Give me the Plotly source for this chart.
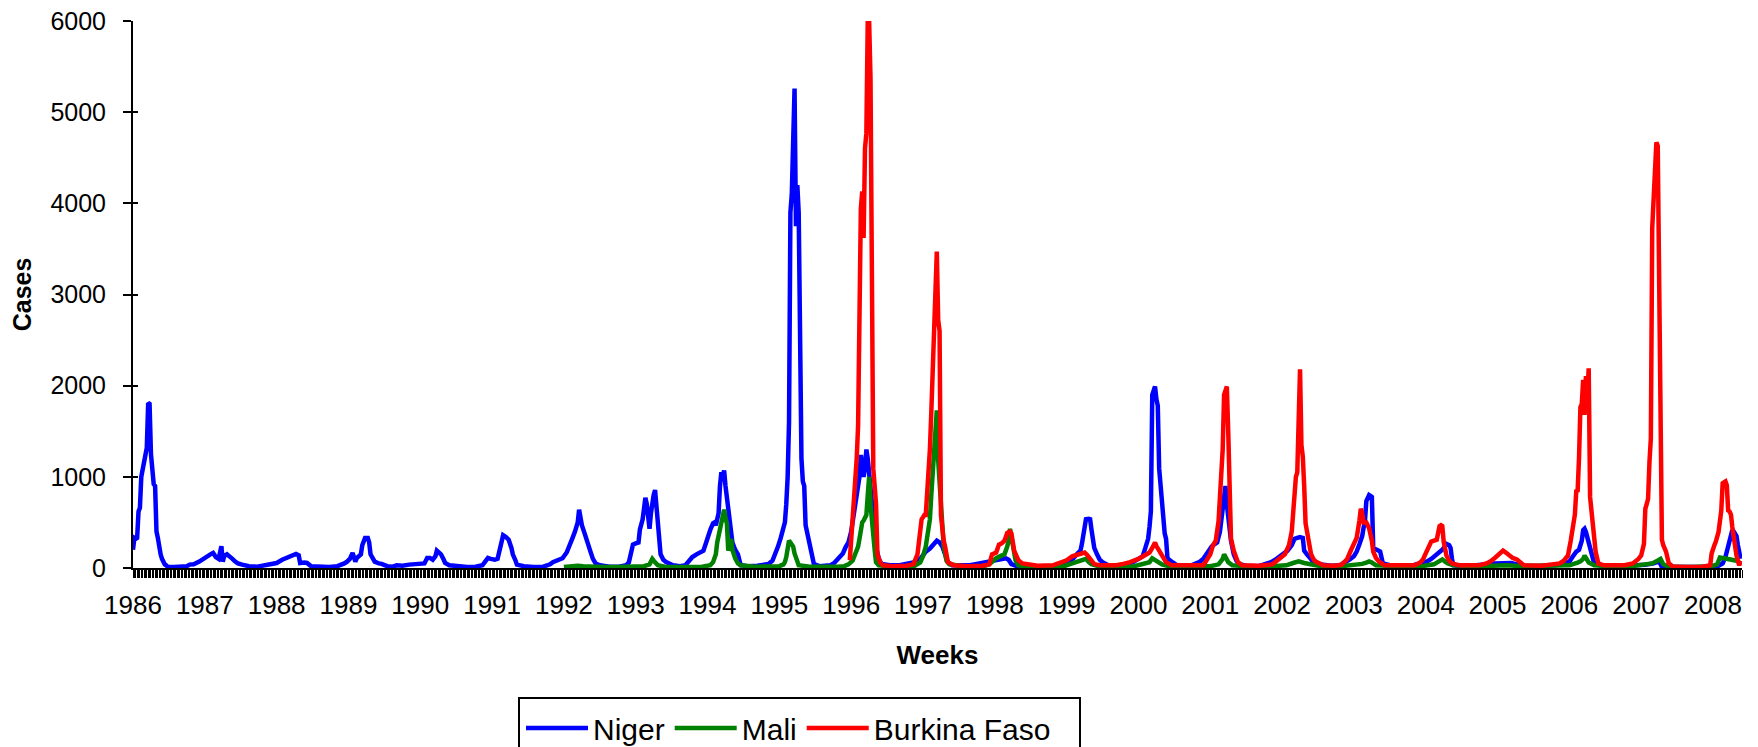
import plotly.graph_objects as go

# ---- data: (week index since 1986 week 0, weekly cases) ----
years = list(range(1986, 2009))
weeks_per_year = 52
n_weeks = 1165

niger = [(0,200),(1,330),(2,320),(3,330),(4,620),(5,660),(6,1000),(7,1100),(8,1150),(9,1280),(10,1320),(11,1810),(12,1800),(13,1250),(14,1000),(15,920),(16,900),(17,400),(18,330),(19,220),(20,150),(21,100),(22,60),(23,40),(24,30),(25,15),(30,10),(35,15),(39,20),(41,37),(44,40),(48,70),(50,90),(53,130),(56,150),(58,165),(60,120),(62,100),(63,150),(64,240),(65,70),(66,130),(68,150),(70,130),(72,100),(74,70),(76,50),(79,37),(84,20),(90,15),(94,30),(98,40),(101,50),(104,55),(108,90),(111,110),(114,130),(116,150),(118,155),(120,140),(121,55),(124,60),(126,55),(129,18),(135,10),(142,10),(148,20),(150,30),(153,50),(155,70),(157,100),(159,165),(160,120),(161,70),(162,110),(163,130),(165,150),(166,250),(168,330),(170,330),(171,280),(172,150),(174,90),(175,70),(178,50),(180,45),(184,20),(188,15),(191,30),(195,25),(200,37),(204,40),(208,45),(211,50),(213,110),(215,110),(217,90),(219,130),(220,190),(222,170),(223,150),(225,90),(226,55),(229,30),(235,15),(242,10),(248,15),(253,30),(255,70),(257,110),(259,100),(262,90),(264,100),(266,240),(267,300),(268,360),(270,340),(272,310),(274,220),(275,150),(277,80),(278,37),(283,20),(290,10),(297,15),(302,40),(304,64),(308,90),(311,107),(314,170),(316,235),(318,320),(320,400),(322,500),(323,640),(324,520),(325,470),(327,380),(328,320),(330,220),(331,190),(333,100),(335,50),(338,30),(345,15),(352,15),(357,30),(359,60),(361,200),(362,257),(364,270),(366,280),(367,420),(369,535),(370,650),(371,770),(372,700),(373,550),(374,430),(375,600),(376,750),(377,800),(378,855),(379,700),(380,490),(381,300),(382,150),(384,90),(386,64),(391,30),(396,20),(400,30),(403,80),(405,120),(408,150),(410,170),(413,190),(415,280),(416,340),(418,420),(420,490),(421,500),(422,470),(424,600),(425,900),(426,1050),(427,1000),(428,1070),(429,900),(430,790),(431,600),(432,535),(433,400),(434,280),(436,200),(438,150),(440,30),(445,20),(452,25),(456,35),(460,43),(463,80),(465,150),(467,235),(469,330),(470,400),(471,470),(472,500),(473,700),(474,1000),(475,1600),(476,3900),(477,4100),(478,5000),(479,5260),(480,3750),(481,4200),(482,3900),(483,1700),(484,1200),(485,950),(486,900),(487,470),(488,400),(489,300),(490,235),(491,150),(492,80),(493,43),(497,20),(502,20),(505,30),(508,60),(511,107),(514,160),(516,230),(518,280),(520,400),(521,490),(523,700),(525,900),(526,1000),(527,1240),(528,1150),(529,1000),(530,1100),(531,1300),(532,1200),(533,1050),(534,900),(535,800),(536,660),(537,400),(538,235),(540,100),(542,43),(548,30),(555,30),(560,40),(565,60),(570,100),(572,150),(574,180),(577,214),(579,250),(581,280),(582,300),(584,280),(586,235),(588,150),(590,64),(593,30),(600,25),(606,30),(609,40),(613,50),(616,64),(620,70),(625,85),(629,100),(632,107),(634,90),(636,43),(640,20),(650,15),(660,15),(670,20),(674,30),(678,70),(681,107),(684,160),(686,190),(687,260),(688,365),(689,450),(690,535),(692,540),(693,535),(694,420),(695,320),(696,220),(698,150),(700,90),(702,64),(706,30),(712,25),(716,30),(720,45),(724,64),(728,100),(731,128),(733,220),(735,320),(736,450),(737,620),(738,1900),(739,1950),(740,1990),(741,1850),(742,1780),(743,1090),(744,900),(745,790),(746,450),(747,380),(748,320),(749,107),(751,80),(753,64),(756,30),(765,20),(772,64),(775,100),(777,150),(779,200),(781,235),(783,260),(785,280),(787,400),(788,535),(789,650),(790,800),(791,900),(792,700),(793,535),(794,400),(795,300),(797,150),(799,80),(801,43),(806,25),(815,20),(820,40),(824,64),(827,90),(830,128),(833,150),(836,190),(839,250),(841,320),(843,330),(845,340),(847,330),(848,190),(850,150),(852,107),(855,60),(857,43),(862,30),(868,25),(874,30),(878,60),(881,94),(884,130),(886,180),(888,260),(890,350),(891,440),(892,520),(893,735),(894,760),(895,800),(896,790),(897,780),(898,220),(900,200),(902,190),(903,180),(905,50),(910,30),(918,20),(927,30),(932,50),(937,73),(940,100),(943,137),(946,170),(948,200),(950,240),(951,265),(953,250),(954,220),(955,100),(956,30),(962,20),(970,25),(978,30),(982,40),(986,50),(990,55),(994,60),(998,55),(1002,40),(1006,25),(1015,20),(1025,25),(1030,30),(1036,45),(1040,70),(1043,137),(1045,180),(1047,200),(1049,300),(1050,415),(1051,430),(1052,394),(1053,330),(1054,265),(1056,137),(1058,50),(1062,30),(1070,20),(1080,25),(1090,30),(1095,35),(1101,50),(1103,60),(1105,73),(1107,10),(1112,15),(1120,10),(1130,10),(1140,15),(1148,25),(1151,50),(1153,120),(1154,180),(1155,250),(1156,310),(1157,360),(1158,415),(1159,400),(1161,350),(1162,250),(1163,137),(1164,100)]

mali = [(312,10),(318,20),(322,25),(326,20),(330,15),(340,10),(350,10),(360,15),(370,20),(374,40),(376,100),(377,80),(378,64),(380,30),(385,15),(395,10),(405,10),(412,15),(418,30),(420,64),(422,150),(423,280),(424,350),(425,400),(426,470),(427,550),(428,640),(429,550),(430,490),(431,190),(432,250),(433,320),(434,200),(435,150),(436,107),(438,50),(440,30),(450,15),(460,15),(468,20),(471,40),(472,64),(473,120),(474,200),(475,300),(476,280),(477,250),(478,235),(479,160),(480,107),(481,60),(482,30),(490,15),(500,10),(510,15),(515,20),(518,40),(521,80),(523,150),(525,235),(526,320),(527,470),(528,500),(529,520),(530,560),(531,580),(532,800),(533,1000),(534,700),(535,490),(536,320),(537,200),(538,64),(540,30),(550,15),(560,15),(566,25),(570,60),(572,130),(574,235),(576,400),(577,535),(578,800),(579,1090),(580,1300),(581,1500),(582,1730),(583,1180),(584,900),(585,660),(586,400),(587,235),(589,80),(591,43),(600,20),(610,15),(616,20),(620,40),(623,80),(625,107),(628,130),(631,150),(633,235),(634,300),(635,430),(636,350),(637,235),(639,85),(641,30),(650,15),(665,15),(675,25),(680,50),(684,70),(687,85),(689,107),(690,100),(692,64),(694,43),(698,25),(710,15),(725,20),(732,40),(736,64),(738,107),(740,90),(742,64),(745,40),(750,20),(765,15),(780,20),(786,40),(789,100),(790,150),(791,120),(793,64),(796,30),(810,15),(825,20),(835,30),(840,55),(844,73),(848,55),(852,40),(860,20),(875,20),(885,30),(890,45),(893,60),(895,73),(897,60),(900,30),(915,20),(935,25),(942,40),(946,80),(948,94),(950,70),(952,50),(956,30),(970,20),(985,25),(995,30),(1005,20),(1030,20),(1040,30),(1046,60),(1048,73),(1050,100),(1051,137),(1052,110),(1054,60),(1058,30),(1070,20),(1085,20),(1095,40),(1100,50),(1103,73),(1105,94),(1106,100),(1108,40),(1112,15),(1130,10),(1143,20),(1147,40),(1149,115),(1151,110),(1153,103),(1156,100),(1159,94),(1161,80),(1163,60),(1164,50)]

burkina = [(519,85),(520,300),(521,535),(522,700),(523,900),(524,1200),(525,1560),(526,3445),(527,3940),(528,4130),(529,3620),(530,4600),(531,4770),(532,6000),(533,6000),(534,5370),(535,1950),(536,1090),(537,900),(538,700),(539,150),(541,60),(543,30),(550,20),(560,25),(565,40),(568,150),(570,400),(571,535),(572,556),(573,580),(574,580),(575,770),(576,1000),(577,1300),(578,1700),(579,2120),(580,2500),(581,2800),(582,3470),(583,2720),(584,2600),(585,580),(586,400),(587,300),(588,235),(589,120),(590,64),(594,30),(605,20),(615,25),(620,40),(622,150),(624,160),(625,170),(627,257),(629,270),(631,300),(633,385),(635,400),(636,380),(638,190),(640,100),(641,85),(644,50),(647,43),(655,25),(666,30),(671,64),(676,85),(680,128),(683,140),(686,150),(689,170),(691,140),(693,107),(696,43),(700,30),(712,30),(717,45),(722,64),(729,107),(733,140),(736,170),(738,220),(740,280),(741,240),(742,214),(744,150),(746,100),(748,64),(752,30),(770,25),(775,30),(778,100),(780,150),(782,250),(784,300),(786,515),(787,800),(788,1220),(789,1300),(790,1900),(791,1950),(792,1990),(793,1500),(794,1000),(795,320),(797,190),(799,100),(800,64),(803,30),(815,25),(825,40),(829,85),(834,150),(837,250),(839,400),(840,600),(841,880),(842,1000),(843,1050),(844,1900),(845,2180),(846,1350),(847,1220),(848,900),(849,490),(851,320),(853,150),(855,90),(857,64),(862,30),(870,25),(875,35),(879,94),(882,200),(884,265),(886,330),(888,520),(889,650),(890,600),(891,500),(893,500),(895,435),(897,300),(898,180),(900,110),(902,73),(906,30),(918,25),(928,30),(932,60),(934,94),(936,160),(938,220),(940,290),(944,310),(945,400),(946,460),(947,470),(948,460),(949,290),(951,137),(953,80),(955,50),(960,30),(975,30),(980,50),(983,73),(986,110),(988,137),(990,170),(992,190),(994,170),(997,137),(999,110),(1002,94),(1005,50),(1007,30),(1020,25),(1033,50),(1036,80),(1039,137),(1041,300),(1042,394),(1043,500),(1044,586),(1045,843),(1046,850),(1047,1207),(1048,1763),(1049,1800),(1050,2063),(1051,1678),(1052,2106),(1053,1900),(1054,2190),(1055,780),(1056,650),(1057,520),(1058,300),(1059,180),(1061,50),(1065,30),(1080,30),(1086,50),(1090,100),(1092,137),(1094,265),(1095,650),(1096,700),(1097,760),(1098,1165),(1099,1420),(1100,3730),(1101,4100),(1102,4290),(1103,4670),(1104,4630),(1105,3000),(1106,1080),(1107,310),(1108,250),(1110,180),(1112,50),(1115,17),(1125,10),(1135,10),(1142,30),(1143,158),(1145,250),(1146,287),(1148,394),(1149,500),(1150,630),(1151,930),(1152,950),(1153,950),(1154,907),(1155,630),(1156,620),(1157,586),(1158,450),(1159,350),(1161,137),(1163,30),(1164,80)]

series = [("Niger", niger, "#0000FF"), ("Mali", mali, "#008000"), ("Burkina Faso", burkina, "#FF0000")]
y_ticks = [0, 1000, 2000, 3000, 4000, 5000, 6000]

FONT = "Liberation Sans, Arial, sans-serif"
W, H = 1758, 747
ML, MR, MT, MB = 133, 16, 21, 179
PW, PH = W - ML - MR, H - MT - MB

fig = go.Figure()
for name, data, color in series:
    xs = [p[0] for p in data]
    ys = [p[1] for p in data]
    fig.add_trace(go.Scatter(x=xs, y=ys, mode="lines", name=name,
                             line=dict(color=color, width=4.5)))

# invisible trace on second y-axis for inside tick marks
fig.add_trace(go.Scatter(x=[0], y=[0], yaxis="y2", mode="lines",
                         showlegend=False, hoverinfo="skip",
                         line=dict(color="rgba(0,0,0,0)")))

year_vals = [(y - years[0]) * weeks_per_year for y in years]

# legend frame (box in paper coordinates, bottom runs past the page edge)
box_left, box_right, box_top = 519, 1080, 698
fig.add_shape(type="rect", xref="paper", yref="paper",
              x0=(box_left - ML) / PW, x1=(box_right - ML) / PW,
              y0=(H - MB - box_top) / PH, y1=(H - MB - (H + 20)) / PH,
              line=dict(color="black", width=2), fillcolor="rgba(0,0,0,0)", layer="above")

fig.update_layout(
    width=W, height=H,
    margin=dict(l=ML, r=MR, t=MT, b=MB, autoexpand=False),
    paper_bgcolor="white", plot_bgcolor="white",
    font=dict(family=FONT, size=25, color="black"),
    showlegend=True,
    legend=dict(orientation="h", x=(box_left + 2 - ML) / PW, y=1 - 702 / H, yref="container",
                xanchor="left", yanchor="top",
                borderwidth=0, font=dict(size=30, family=FONT),
                itemwidth=62, traceorder="normal", bgcolor="rgba(0,0,0,0)"),
    xaxis=dict(range=[0, n_weeks], tickmode="array", tickvals=year_vals,
               ticktext=[str(y) for y in years], tickangle=0, automargin=False,
               ticks="outside", ticklen=8, tickcolor="black", tickwidth=1,
               minor=dict(ticks="outside", ticklen=8, tickcolor="black", tickwidth=1,
                          tickmode="linear", tick0=0, dtick=1),
               showline=True, linecolor="black", linewidth=2, showgrid=False,
               zeroline=False, ticklabelstandoff=5,
               tickfont=dict(size=26, family=FONT),
               title=dict(text="<b>Weeks</b>", font=dict(size=26, family=FONT), standoff=27)),
    yaxis=dict(range=[0, 6000], tickmode="array", tickvals=y_ticks, automargin=False,
               ticks="outside", ticklen=8, tickcolor="black", tickwidth=2,
               showline=True, linecolor="black", linewidth=2, showgrid=False,
               zeroline=False, ticklabelstandoff=12,
               tickfont=dict(size=25, family=FONT),
               title=dict(text="<b>Cases</b>", font=dict(size=25, family=FONT), standoff=12)),
    yaxis2=dict(range=[0, 6000], overlaying="y", side="left", anchor="x",
                tickmode="array", tickvals=y_ticks, ticks="inside", ticklen=5,
                tickcolor="black", tickwidth=2, showticklabels=False, automargin=False,
                showline=False, showgrid=False, zeroline=False),
)

fig.write_html("out.html")
